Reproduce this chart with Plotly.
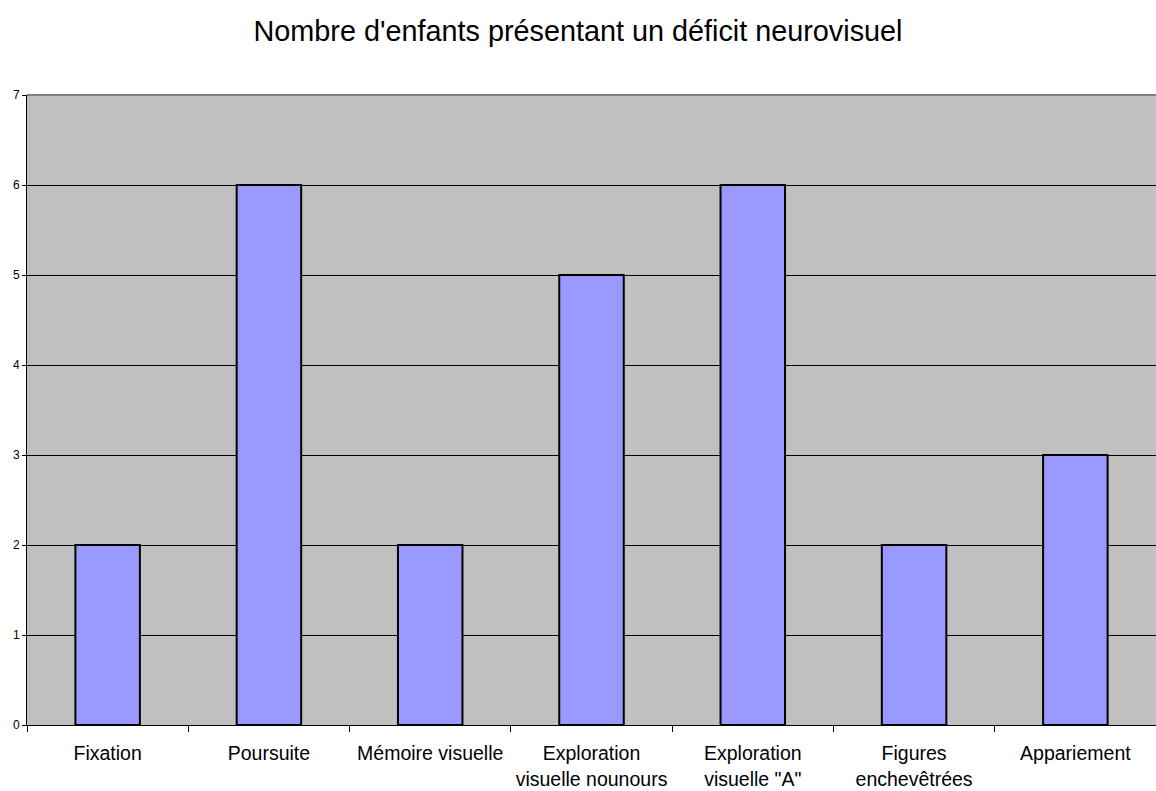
import plotly.graph_objects as go

categories = ["Fixation", "Poursuite", "Mémoire visuelle",
              "Exploration<br>visuelle nounours", "Exploration<br>visuelle \"A\"",
              "Figures<br>enchevêtrées", "Appariement"]
values = [2, 6, 2, 5, 6, 2, 3]
y_ticks = [0, 1, 2, 3, 4, 5, 6, 7]

fig = go.Figure(go.Bar(
    x=categories, y=values,
    marker=dict(color="#9999FF", line=dict(color="black", width=2)),
    width=0.4,
))

fig.update_layout(
    width=1156, height=791,
    margin=dict(l=27, r=0, t=95, b=66),
    paper_bgcolor="white", plot_bgcolor="#C0C0C0",
    font=dict(family="Liberation Sans, Arial, sans-serif", color="black"),
    title=dict(text="Nombre d'enfants présentant un déficit neurovisuel",
               x=0.5, xanchor="center", y=1 - 31 / 791, yanchor="middle",
               font=dict(size=28.8, color="black")),
    showlegend=False,
)
fig.update_xaxes(
    type="category", tickson="boundaries", ticks="outside", ticklen=6,
    tickcolor="black", showline=True, linecolor="black", linewidth=1,
    showgrid=False, tickfont=dict(size=19.5), automargin=False,
    ticklabelstandoff=11,
)
fig.update_yaxes(
    range=[0, 7], tickvals=y_ticks, ticks="outside", ticklen=4,
    tickcolor="black", showline=True, linecolor="black", linewidth=1,
    showgrid=True, gridcolor="black", gridwidth=1, zeroline=False,
    tickfont=dict(size=12), automargin=False,
)
fig.add_shape(type="line", xref="paper", yref="paper", x0=0, x1=1, y0=1, y1=1,
              line=dict(color="#808080", width=2))

fig.write_html("out.html", config={"displayModeBar": False},
               post_script="document.body.style.margin='0';document.body.style.overflow='hidden';")
